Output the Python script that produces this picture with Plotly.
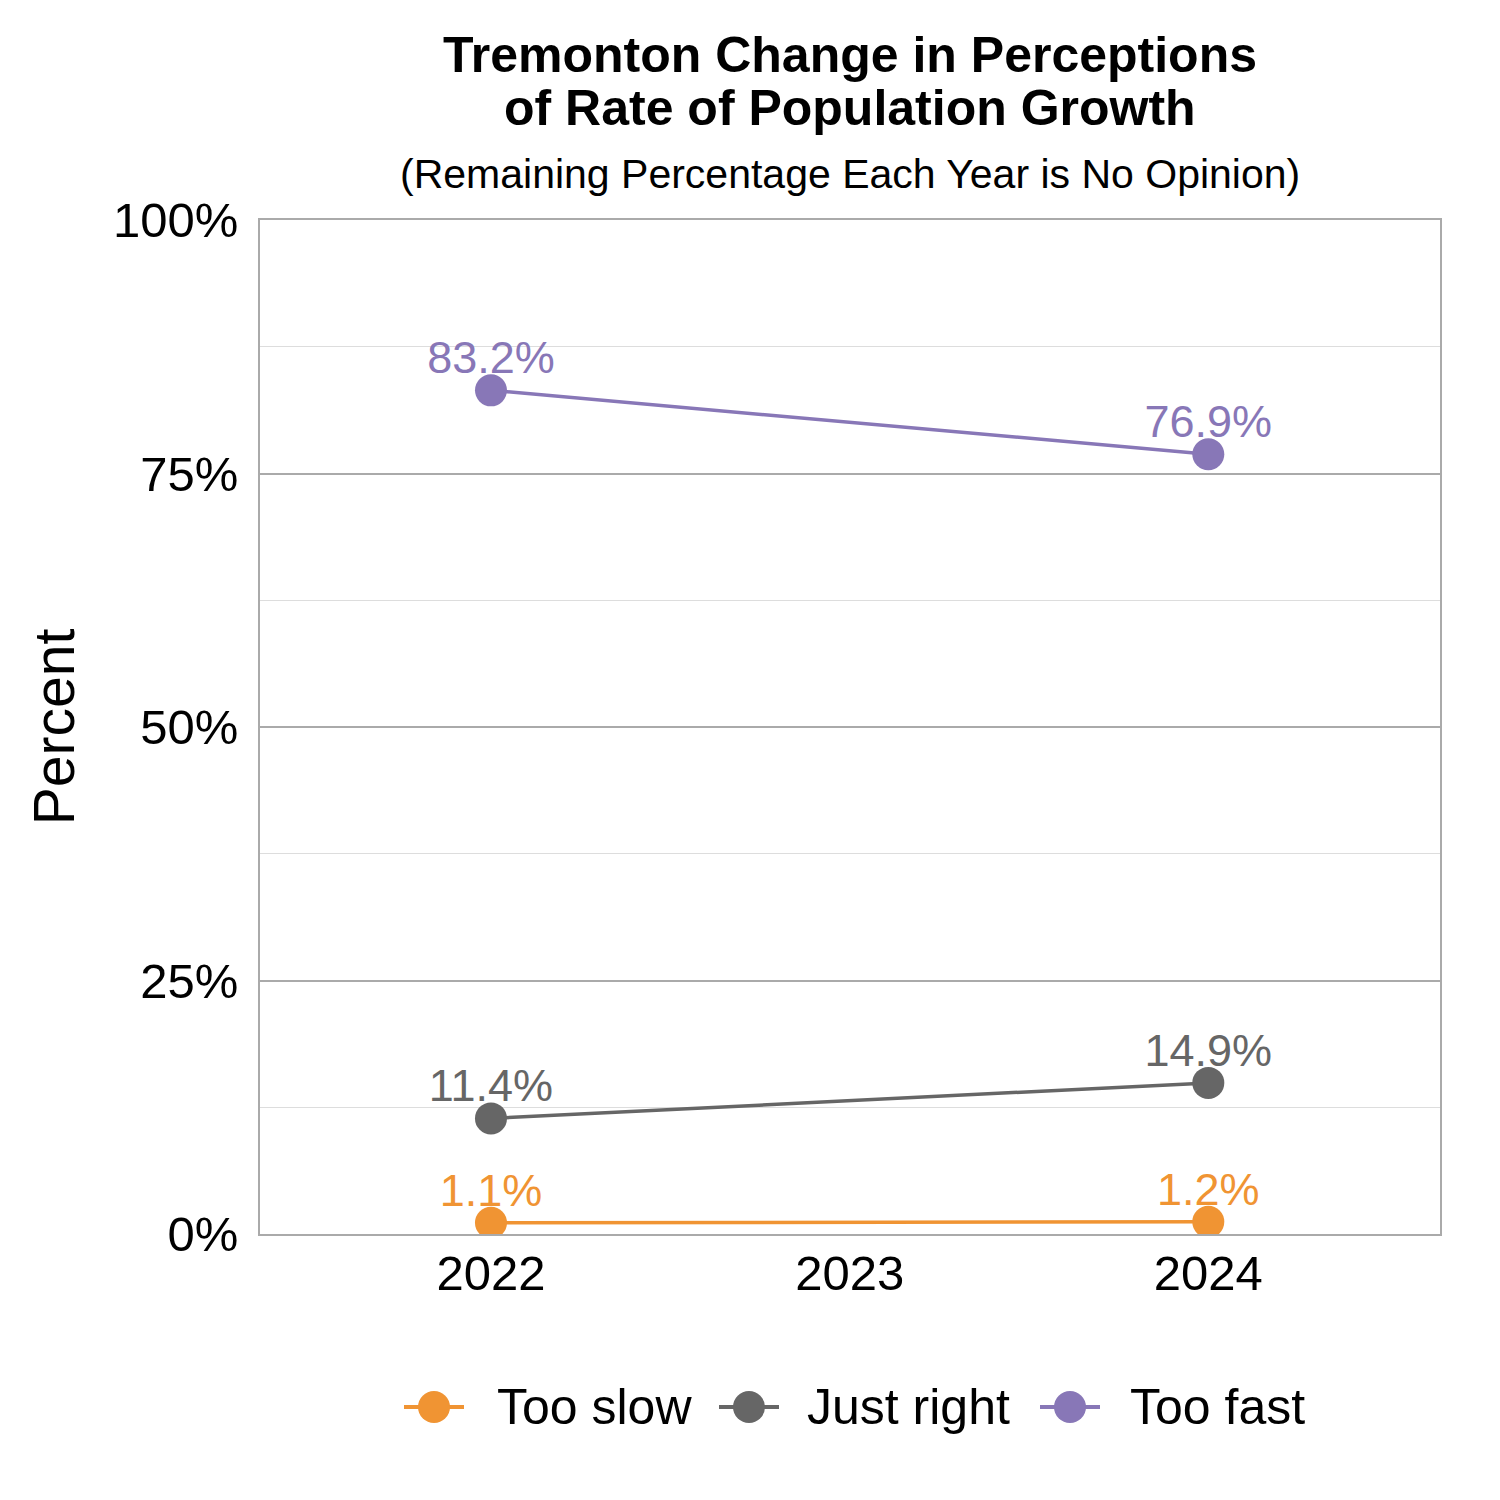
import plotly.graph_objects as go

years = [2022, 2024]
series_names = ["Too slow", "Just right", "Too fast"]
too_slow = [1.1, 1.2]
just_right = [11.4, 14.9]
too_fast = [83.2, 76.9]
colors = ["#F09433", "#666666", "#8877B7"]
y_ticks = [0, 25, 50, 75, 100]
y_tick_labels = ["0%", "25%", "50%", "75%", "100%"]
x_ticks = [2022, 2023, 2024]
title_lines = ["Tremonton Change in Perceptions", "of Rate of Population Growth"]
subtitle = "(Remaining Percentage Each Year is No Opinion)"

FONT = "Liberation Sans"
# page body has an 8px offset; compensate in margins
PLOT_L, PLOT_R, PLOT_T, PLOT_B = 260, 1440, 220, 1234
OFF = 8
W = H = 1500

fig = go.Figure()
for name, vals, col in zip(series_names, [too_slow, just_right, too_fast], colors):
    fig.add_trace(go.Scatter(
        x=years, y=vals, name=name, mode="lines+markers",
        line=dict(color=col, width=3.5),
        marker=dict(color=col, size=32),
        cliponaxis=True, showlegend=False, hoverinfo="x+y+name",
    ))
    fig.add_trace(go.Scatter(
        x=years, y=vals, name=name, mode="markers+text",
        marker=dict(color=col, size=8, opacity=0),
        text=[f"{v:.1f}%" for v in vals],
        textposition="top center",
        textfont=dict(color=col, size=45, family=FONT),
        cliponaxis=False, showlegend=False, hoverinfo="skip",
    ))

fig.update_layout(
    width=W, height=H,
    paper_bgcolor="white", plot_bgcolor="white",
    font=dict(family=FONT, color="black"),
    margin=dict(l=PLOT_L - OFF, r=W + OFF - PLOT_R, t=PLOT_T - OFF,
                b=H + OFF - PLOT_B, autoexpand=False),
    showlegend=False,
    xaxis=dict(
        range=[2021.356, 2024.646], tickmode="array", tickvals=x_ticks,
        ticktext=[str(t) for t in x_ticks], tickfont=dict(size=49),
        showgrid=False, zeroline=False, showline=True, linecolor="#AAAAAA",
        linewidth=1.5, mirror=True, ticks="", ticklabelstandoff=-5,
    ),
    yaxis=dict(
        range=[0, 100], tickmode="array", tickvals=y_ticks,
        ticktext=y_tick_labels, tickfont=dict(size=49),
        showgrid=True, gridcolor="#AAAAAA", gridwidth=1.5,
        minor=dict(dtick=12.5, showgrid=True, gridcolor="#DDDDDD", gridwidth=1),
        zeroline=False, showline=True, linecolor="#AAAAAA", linewidth=1.5,
        mirror=True, ticks="", ticklabelstandoff=10,
        title=dict(text="Percent", font=dict(size=57), standoff=20),
    ),
)

pw = PLOT_R - PLOT_L
ph = PLOT_B - PLOT_T


def px_x(px):
    return (px - PLOT_L) / pw


def px_y(py):
    return (PLOT_B - py) / ph


# title and subtitle
for line, cy in zip(title_lines, [55, 108]):
    fig.add_annotation(text=f"<b>{line}</b>", xref="paper", yref="paper",
                       x=0.5, y=px_y(cy), xanchor="center", yanchor="middle",
                       showarrow=False, font=dict(size=50, color="black"))
fig.add_annotation(text=subtitle, xref="paper", yref="paper",
                   x=0.5, y=px_y(174), xanchor="center", yanchor="middle",
                   showarrow=False, font=dict(size=41, color="black"))

# legend (custom, to match large symbols)
leg_y = px_y(1407)
sym_centers = [434, 749, 1070]
text_starts = [495, 805, 1128]
for name, col, cx, tx in zip(series_names, colors, sym_centers, text_starts):
    fig.add_shape(type="line", xref="paper", yref="paper",
                  x0=px_x(cx - 30), x1=px_x(cx + 30), y0=leg_y, y1=leg_y,
                  line=dict(color=col, width=4))
    fig.add_shape(type="circle", xref="paper", yref="paper",
                  xsizemode="pixel", ysizemode="pixel",
                  xanchor=px_x(cx), yanchor=leg_y,
                  x0=-16, x1=16, y0=-16, y1=16,
                  fillcolor=col, line=dict(color=col, width=0))
    fig.add_annotation(text=name, xref="paper", yref="paper",
                       x=px_x(tx), y=leg_y, xanchor="left", yanchor="middle",
                       showarrow=False, font=dict(size=50, color="black"))

fig.write_html("out.html")
